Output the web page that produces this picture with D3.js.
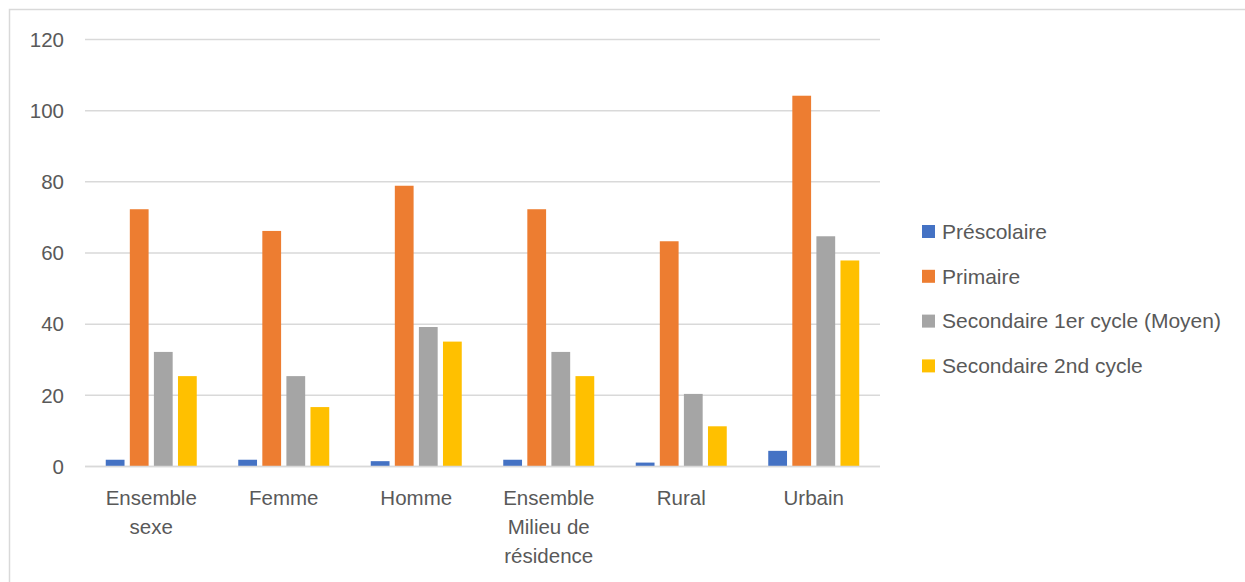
<!DOCTYPE html>
<html><head><meta charset="utf-8">
<script src="https://cdn.jsdelivr.net/npm/d3@7"></script>
<style>
html,body{margin:0;padding:0;background:#fff;}
text{font-family:"Liberation Sans",Arial,sans-serif;fill:#595959;}
</style></head>
<body>
<svg id="chart" width="1245" height="582"></svg>
<script>
const categories = [["Ensemble","sexe"],["Femme"],["Homme"],["Ensemble","Milieu de","résidence"],["Rural"],["Urbain"]];
const seriesNames = ["Préscolaire","Primaire","Secondaire 1er cycle (Moyen)","Secondaire 2nd cycle"];
const prescolaire = [1.9, 1.9, 1.5, 1.9, 1.1, 4.4];
const primaire = [72.3, 66.2, 78.9, 72.3, 63.3, 104.2];
const secondaire1 = [32.2, 25.4, 39.2, 32.2, 20.4, 64.7];
const secondaire2 = [25.4, 16.7, 35.1, 25.4, 11.3, 57.9];
const yTicks = [0,20,40,60,80,100,120];
const colors = ["#4472C4","#ED7D31","#A5A5A5","#FFC000"];

const values = [prescolaire, primaire, secondaire1, secondaire2];
const svg = d3.select("#chart");

// chart border
svg.append("rect").attr("x",9.5).attr("y",9.5).attr("width",1240).attr("height",580)
  .attr("fill","none").attr("stroke","#d9d9d9").attr("stroke-width",1.5);

const pL=85, pR=880, pT=39.5, pB=466.5;
const y = d3.scaleLinear().domain([0,120]).range([pB, pT]);
const x0 = d3.scaleBand().domain(d3.range(categories.length)).range([pL,pR]).paddingInner(0).paddingOuter(0);
const groupW = 91;
const x1 = d3.scaleBand().domain(d3.range(seriesNames.length)).range([0,groupW]).paddingInner(0.22);

// gridlines
svg.append("g").selectAll("line").data(yTicks).join("line")
  .attr("x1",pL).attr("x2",pR).attr("y1",d=>y(d)).attr("y2",d=>y(d))
  .attr("stroke","#d9d9d9").attr("stroke-width",1.5);

// y labels
svg.append("g").selectAll("text").data(yTicks).join("text")
  .attr("x",64).attr("y",d=>y(d)).attr("dy","0.35em").attr("text-anchor","end")
  .attr("font-size",20.5).text(d=>d);

// bars
const g = svg.append("g");
categories.forEach((c,i)=>{
  const gx = x0(i) + x0.bandwidth()/2 - groupW/2;
  g.append("g").attr("transform",`translate(${gx},0)`)
    .selectAll("rect").data(values.map((arr,s)=>({s,v:arr[i]}))).join("rect")
    .attr("x",d=>x1(d.s)).attr("width",x1.bandwidth())
    .attr("y",d=>y(d.v)).attr("height",d=>y(0)-y(d.v))
    .attr("fill",d=>colors[d.s]);
});

// baseline
svg.append("line").attr("x1",pL).attr("x2",pR).attr("y1",y(0)).attr("y2",y(0))
  .attr("stroke","#d9d9d9").attr("stroke-width",1.5);

// category labels
const cl = svg.append("g");
categories.forEach((lines,i)=>{
  const t = cl.append("text").attr("x",x0(i)+x0.bandwidth()/2).attr("y",505)
    .attr("text-anchor","middle").attr("font-size",20.5);
  lines.forEach((ln,k)=>{
    t.append("tspan").attr("x",x0(i)+x0.bandwidth()/2).attr("dy",k===0?0:29).text(ln);
  });
});

// legend
const lg = svg.append("g");
seriesNames.forEach((n,i)=>{
  const cy = 231.5 + i*44.8;
  lg.append("rect").attr("x",922).attr("y",cy-6.5).attr("width",13).attr("height",13).attr("fill",colors[i]);
  lg.append("text").attr("x",942).attr("y",cy).attr("dy","0.35em").attr("font-size",21).text(n);
});
</script>
</body></html>
